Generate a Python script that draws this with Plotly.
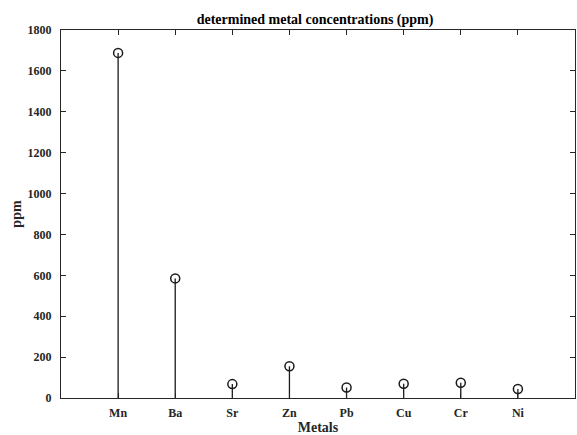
import plotly.graph_objects as go

metals = ["Mn", "Ba", "Sr", "Zn", "Pb", "Cu", "Cr", "Ni"]
ppm = [1688, 585, 68, 155, 51, 70, 75, 44]
positions = list(range(1, len(metals) + 1))
y_ticks = list(range(0, 2000, 200))

stem_x, stem_y = [], []
for p, v in zip(positions, ppm):
    stem_x += [p, p, None]
    stem_y += [0, v, None]

FONT = "Liberation Serif"
AX = "#262626"

fig = go.Figure()
fig.add_trace(go.Scatter(x=stem_x, y=stem_y, mode="lines",
                         line=dict(color="#1a1a1a", width=1.3),
                         hoverinfo="skip", showlegend=False))
fig.add_trace(go.Scatter(x=positions, y=ppm, mode="markers",
                         marker=dict(symbol="circle-open", size=9,
                                     color="#1a1a1a", line=dict(width=1.5)),
                         showlegend=False))

fig.update_layout(
    width=577, height=435,
    margin=dict(l=61, r=2, t=30, b=37),
    plot_bgcolor="white", paper_bgcolor="white",
    font=dict(family=FONT, size=12, color=AX),
    title=dict(text="<b>determined metal concentrations (ppm)</b>",
               x=0.546, xanchor="center", y=0.957, yanchor="middle",
               font=dict(family=FONT, size=14, color="black")),
)
fig.update_xaxes(
    range=[0, 9], tickmode="array", tickvals=positions,
    ticktext=[f"<b>{m}</b>" for m in metals],
    showgrid=False, zeroline=False, automargin=False,
    showline=True, linecolor=AX, linewidth=1.3, mirror="ticks",
    ticks="inside", ticklen=5, tickcolor=AX, tickwidth=1,
    ticklabelstandoff=3,
    tickfont=dict(family=FONT, size=12, color=AX),
    title=dict(text="<b>Metals</b>", font=dict(family=FONT, size=14, color=AX), standoff=7),
)
fig.update_yaxes(
    range=[0, 1800], tickmode="array", tickvals=y_ticks,
    ticktext=[f"<b>{t}</b>" for t in y_ticks],
    showgrid=False, zeroline=False, automargin=False,
    showline=True, linecolor=AX, linewidth=1.3, mirror="ticks",
    ticks="inside", ticklen=5, tickcolor=AX, tickwidth=1,
    ticklabelstandoff=6,
    tickfont=dict(family=FONT, size=12, color=AX),
    title=dict(text="<b>ppm</b>", font=dict(family=FONT, size=14, color=AX), standoff=2),
)

fig.write_html("out.html")
